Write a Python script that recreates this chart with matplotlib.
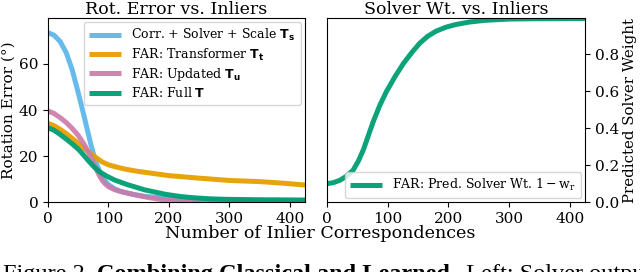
import matplotlib
matplotlib.use("Agg")
import matplotlib.pyplot as plt

plt.rcParams["font.family"] = "DejaVu Serif"
plt.rcParams["font.size"] = 11
plt.rcParams["mathtext.fontset"] = "custom"
plt.rcParams["mathtext.rm"] = "DejaVu Serif"
plt.rcParams["mathtext.bf"] = "DejaVu Sans:bold"

BLUE = "#56B4E9"
ORANGE = "#E69F00"
PINK = "#CC79A7"
GREEN = "#009E73"

# rotation error (deg) vs number of inliers
x_scale = [0, 10, 20, 30, 40, 50, 60, 64, 70, 75, 80, 86, 90, 95, 100, 110, 120, 130, 140,
           160, 200, 250, 300, 350, 425]
y_scale = [73.6, 72.5, 69.8, 65.0, 57.5, 47.5, 37.0, 32.5, 26.0, 21.0, 16.8, 13.0, 10.9,
           9.0, 7.6, 5.8, 4.7, 4.0, 3.4, 2.5, 1.6, 1.1, 0.9, 0.8, 0.7]

x_trans = [0, 10, 20, 30, 40, 50, 60, 70, 80, 90, 100, 115, 130, 150, 175, 200, 250, 300,
           350, 390, 425]
y_trans = [34.2, 33.2, 31.6, 29.8, 27.7, 25.5, 23.2, 21.2, 19.2, 17.4, 16.2, 15.1, 14.2,
           13.3, 12.4, 11.5, 10.4, 9.4, 8.9, 8.2, 7.4]

x_upd = [0, 10, 20, 30, 40, 50, 60, 70, 75, 80, 86, 90, 95, 100, 110, 120, 130, 150, 168,
         185, 200, 230, 270, 320, 425]
y_upd = [39.6, 38.5, 36.7, 34.6, 32.0, 29.0, 25.0, 20.0, 17.1, 14.2, 11.0, 9.3, 7.8, 6.7,
         5.4, 4.6, 4.0, 2.8, 1.9, 1.2, 0.8, 0.4, 0.2, 0.1, 0.0]

x_full = [0, 10, 20, 30, 40, 50, 58, 66, 75, 85, 97, 110, 130, 160, 196, 220, 240, 270,
          295, 350, 425]
y_full = [32.3, 31.2, 29.4, 27.4, 25.3, 23.0, 20.7, 18.2, 15.6, 13.2, 11.3, 9.6, 7.7, 5.3,
          3.3, 2.4, 1.9, 1.4, 1.2, 1.0, 0.9]

# predicted solver weight
x_wt = [0, 10, 21, 30, 43, 52, 60, 68, 76, 87, 98, 112, 126, 140, 153, 166, 180, 196, 213,
        235, 260, 300, 350, 425]
y_wt = [0.100, 0.105, 0.118, 0.136, 0.173, 0.225, 0.285, 0.360, 0.435, 0.525, 0.600, 0.680,
        0.752, 0.812, 0.862, 0.899, 0.927, 0.948, 0.963, 0.976, 0.985, 0.992, 0.994, 0.995]

LW = 3.6
LEG = dict(fontsize=9, handlelength=2.6, handletextpad=0.8)

fig = plt.figure(figsize=(6.4, 2.72), dpi=100)
ax1 = fig.add_axes([0.075, 0.257, 0.4016, 0.677])
ax2 = fig.add_axes([0.511, 0.257, 0.403, 0.677])

ax1.plot(x_scale, y_scale, color=BLUE, lw=LW, alpha=0.9, solid_capstyle="butt",
         label=r"Corr. + Solver + Scale $\mathbf{T_s}$")
ax1.plot(x_trans, y_trans, color=ORANGE, lw=LW, alpha=0.95, solid_capstyle="butt",
         label=r"FAR: Transformer $\mathbf{T_t}$")
ax1.plot(x_upd, y_upd, color=PINK, lw=LW, alpha=0.9, solid_capstyle="butt",
         label=r"FAR: Updated $\mathbf{T_u}$")
ax1.plot(x_full, y_full, color=GREEN, lw=LW, alpha=0.95, solid_capstyle="butt",
         label=r"FAR: Full $\mathbf{T}$")
ax1.set_xlim(0, 425)
ax1.set_ylim(0, 80)
ax1.set_xticks([0, 100, 200, 300, 400])
ax1.set_yticks([0, 20, 40, 60])
ax1.set_ylabel("Rotation Error (°)", fontsize=11, labelpad=2)
ax1.set_title("Rot. Error vs. Inliers", fontsize=12.5, pad=2)
ax1.legend(loc="upper right", borderaxespad=0.35, labelspacing=0.25, **LEG)

ax2.plot(x_wt, y_wt, color=GREEN, lw=LW, alpha=0.95, solid_capstyle="butt",
         label=r"FAR: Pred. Solver Wt. $1-\mathrm{w_r}$")
ax2.set_xlim(0, 425)
ax2.set_ylim(0, 0.998)
ax2.set_xticks([0, 100, 200, 300, 400])
ax2.set_yticks([0.0, 0.2, 0.4, 0.6, 0.8])
ax2.yaxis.tick_right()
ax2.yaxis.set_label_position("right")
ax2.set_ylabel("Predicted Solver Weight", fontsize=10.8, labelpad=3)
ax2.set_title("Solver Wt. vs. Inliers", fontsize=12.5, pad=2)
ax2.legend(loc="lower right", borderaxespad=0.3, **LEG)

fig.text(0.5, 0.125, "Number of Inlier Correspondences", ha="center", va="baseline",
         fontsize=12.6)

# caption of the paper figure, cut off at the bottom edge as in the source
parts = [("Figure 2. ", "normal"), ("Combining Classical and Learned.", "bold"),
         (" Left: Solver output", "normal")]
fig.canvas.draw()
renderer = fig.canvas.get_renderer()
xpos = 3 / 640
for txt, weight in parts:
    t = fig.text(xpos, -0.03, txt, fontsize=17.5, family="Liberation Serif",
                 weight=weight, va="baseline", ha="left", color="black")
    bb = t.get_window_extent(renderer)
    xpos += bb.width / fig.bbox.width + (4 / 640 if txt.startswith("Combining") else 0)

fig.savefig("out.png", dpi=100)
